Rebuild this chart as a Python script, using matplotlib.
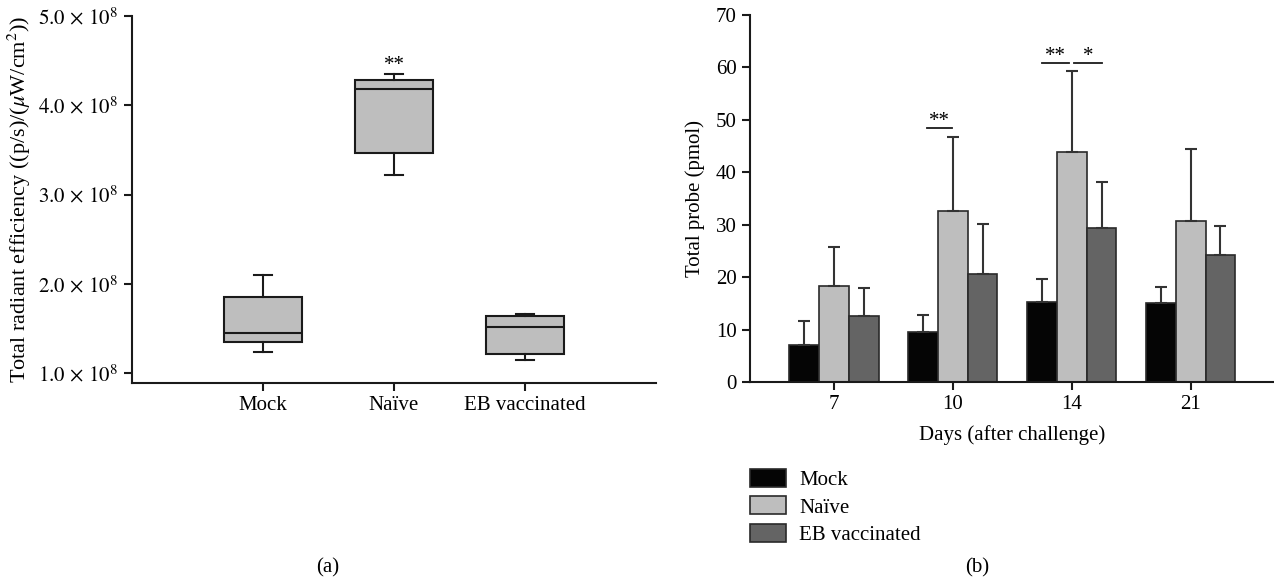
import matplotlib
matplotlib.use('Agg')
import matplotlib.pyplot as plt
from matplotlib.patches import Patch
from matplotlib.ticker import FuncFormatter
import numpy as np

plt.rcParams['font.family'] = ['Liberation Serif', 'DejaVu Serif']
plt.rcParams['mathtext.fontset'] = 'stix'
plt.rcParams['font.size'] = 15

# panel (a): box plot summaries (values x 1e8)
groups = ['Mock', 'Naïve', 'EB vaccinated']
whislo = [1.24, 3.22, 1.15]
q1 = [1.35, 3.46, 1.21]
med = [1.45, 4.18, 1.51]
q3 = [1.855, 4.28, 1.64]
whishi = [2.10, 4.35, 1.66]

# panel (b): bar means and SD
days = ['7', '10', '14', '21']
mock = [7.1, 9.6, 15.3, 15.0]
mock_sd = [4.6, 3.1, 4.3, 3.1]
naive = [18.4, 32.6, 43.9, 30.7]
naive_sd = [7.3, 14.2, 15.5, 13.8]
eb = [12.5, 20.6, 29.3, 24.3]
eb_sd = [5.4, 9.5, 8.9, 5.5]

colors = ['#050505', '#bebebe', '#646464']
edge = '#2a2a2a'

fig = plt.figure(figsize=(12.74, 5.82), dpi=100)

# ---------------- (a) ----------------
ax1 = fig.add_axes([132/1274, 1-383/582, 524/1274, 367/582])
stats = []
for i in range(len(groups)):
    stats.append({'whislo': whislo[i]*1e8, 'q1': q1[i]*1e8, 'med': med[i]*1e8,
                  'q3': q3[i]*1e8, 'whishi': whishi[i]*1e8, 'fliers': [], 'label': groups[i]})
ax1.bxp(stats, positions=[1, 2, 3], widths=0.6, patch_artist=True, showfliers=False,
        capwidths=0.14,
        boxprops=dict(facecolor='#bebebe', edgecolor='#1a1a1a', linewidth=1.5),
        medianprops=dict(color='#1a1a1a', linewidth=1.5),
        whiskerprops=dict(color='#1a1a1a', linewidth=1.5),
        capprops=dict(color='#1a1a1a', linewidth=1.5))
ax1.set_xlim(0, 4)
ax1.set_ylim(0.888e8, 5.0e8)
ax1.set_yticks([1e8, 2e8, 3e8, 4e8, 5e8])
ax1.yaxis.set_major_formatter(FuncFormatter(lambda v, p: r'$%.1f\,\times\,10^{8}$' % (v/1e8)))
ax1.set_ylabel('Total radiant efficiency ((p/s)/($\\mu$W/cm$^2$))', labelpad=4, fontsize=16)
ax1.text(2, whishi[1]*1e8 - 0.01e8, '**', ha='center', va='bottom', fontsize=15)

# ---------------- (b) ----------------
ax2 = fig.add_axes([750/1274, 1-382/582, 524/1274, 367/582])
x = np.arange(len(days))
w = 0.25
ax2.bar(x - w, mock, w, color=colors[0], edgecolor=edge, linewidth=1.2,
        yerr=[np.zeros(4), mock_sd], capsize=4,
        error_kw=dict(ecolor='#333333', elinewidth=1.5, capthick=1.5), label='Mock')
ax2.bar(x, naive, w, color=colors[1], edgecolor=edge, linewidth=1.2,
        yerr=[np.zeros(4), naive_sd], capsize=4,
        error_kw=dict(ecolor='#333333', elinewidth=1.5, capthick=1.5), label='Naïve')
ax2.bar(x + w, eb, w, color=colors[2], edgecolor=edge, linewidth=1.2,
        yerr=[np.zeros(4), eb_sd], capsize=4,
        error_kw=dict(ecolor='#333333', elinewidth=1.5, capthick=1.5), label='EB vaccinated')
ax2.set_xlim(-0.706, 3.70)
ax2.set_ylim(0, 70)
ax2.set_yticks(range(0, 71, 10))
ax2.set_xticks(x)
ax2.set_xticklabels(days)
ax2.set_xlabel('Days (after challenge)', labelpad=8)
ax2.set_ylabel('Total probe (pmol)', labelpad=8)

# significance marks
ax2.plot([1 - 0.22, 1 - 0.01], [48.5, 48.5], color='#1a1a1a', lw=1.3)
ax2.text(1 - 0.115, 47.9, '**', ha='center', va='bottom', fontsize=15)
ax2.plot([2 - 0.25, 2 - 0.02], [60.9, 60.9], color='#1a1a1a', lw=1.3)
ax2.text(2 - 0.135, 60.3, '**', ha='center', va='bottom', fontsize=15)
ax2.plot([2 + 0.02, 2 + 0.25], [60.9, 60.9], color='#1a1a1a', lw=1.3)
ax2.text(2 + 0.135, 60.3, '*', ha='center', va='bottom', fontsize=15)

for ax in (ax1, ax2):
    ax.spines['top'].set_visible(False)
    ax.spines['right'].set_visible(False)
    ax.spines['left'].set_linewidth(1.5)
    ax.spines['bottom'].set_linewidth(1.5)
    ax.spines['left'].set_color('#1a1a1a')
    ax.spines['bottom'].set_color('#1a1a1a')
    ax.tick_params(direction='out', length=6, width=1.5, color='#1a1a1a', labelsize=15)

handles = [Patch(facecolor=c, edgecolor=edge, linewidth=1.2) for c in colors]
fig.legend(handles, ['Mock', 'Naïve', 'EB vaccinated'], loc='upper left',
           bbox_to_anchor=(750/1274, 1 - 469/582), frameon=False, fontsize=15,
           handlelength=1.75, handleheight=0.95, handletextpad=0.6,
           labelspacing=0.3, borderpad=0, borderaxespad=0)

fig.text(328/1274, 1 - 568/582, '(a)', ha='center', va='center', fontsize=15)
fig.text(977/1274, 1 - 568/582, '(b)', ha='center', va='center', fontsize=15)

fig.savefig('out.png', dpi=100)
